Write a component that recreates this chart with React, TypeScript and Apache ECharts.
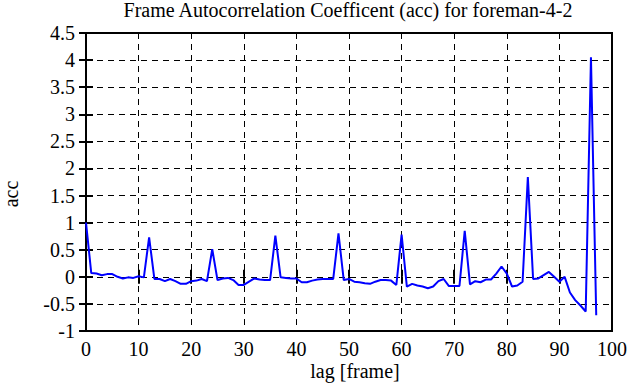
import React, { useEffect, useRef } from "react";
import * as echarts from "echarts";

const titleText = "Frame Autocorrelation Coefficent (acc) for foreman-4-2";
const xName = "lag [frame]";
const yName = "acc";

const lags: number[] = [];
for (let i = 0; i <= 97; i++) lags.push(i);

const accValues: number[] = [
  1.0, 0.07, 0.06, 0.03, 0.05, 0.05, 0.0, -0.03, -0.01, -0.02,
  0.01, -0.01, 0.73, -0.04, -0.04, -0.08, -0.04, -0.08, -0.13, -0.13,
  -0.08, -0.07, -0.04, -0.08, 0.51, -0.06, -0.03, -0.02, -0.06, -0.15,
  -0.15, -0.09, -0.03, -0.05, -0.06, -0.06, 0.76, -0.01, -0.02, -0.03,
  -0.03, -0.1, -0.1, -0.07, -0.05, -0.04, -0.04, -0.04, 0.8, -0.06,
  -0.04, -0.09, -0.1, -0.12, -0.13, -0.09, -0.06, -0.06, -0.07, -0.15,
  0.78, -0.18, -0.13, -0.16, -0.18, -0.21, -0.18, -0.08, -0.04, -0.17,
  -0.17, -0.17, 0.85, -0.14, -0.08, -0.1, -0.05, -0.05, 0.06, 0.19,
  0.06, -0.18, -0.16, -0.09, 1.84, -0.04, -0.03, 0.03, 0.09, 0.0,
  -0.09, 0.0, -0.29, -0.43, -0.53, -0.64, 4.05, -0.71,
];

const FONT = "Liberation Serif";

export default function App() {
  const ref = useRef<HTMLDivElement>(null);
  useEffect(() => {
    if (!ref.current) return;
    const chart = echarts.init(ref.current, undefined, { renderer: "svg" });
    const data = lags.map((l, i) => [l, accValues[i]]);
    const gridLine = { show: true, lineStyle: { color: "#000", width: 1, type: [6, 5] as any } };
    const tickIn = { show: true, inside: true, length: 7, lineStyle: { color: "#000", width: 2 } };
    chart.setOption({
      animation: false,
      backgroundColor: "#fff",
      grid: {
        left: 86, right: 17, top: 33, bottom: 56,
        show: true, borderColor: "#000", borderWidth: 2, backgroundColor: "transparent",
      },
      xAxis: [
        {
          type: "value", min: 0, max: 100, interval: 10,
          axisLine: { show: false },
          axisTick: tickIn,
          splitLine: gridLine,
          axisLabel: { color: "#000", fontFamily: FONT, fontSize: 20, margin: 8 },
        },
        {
          type: "value", position: "top", min: 0, max: 100, interval: 10,
          axisLine: { show: false }, axisTick: tickIn, splitLine: { show: false },
          axisLabel: { show: false },
        },
      ],
      yAxis: [
        {
          type: "value", min: -1, max: 4.5, interval: 0.5,
          axisLine: { show: false },
          axisTick: tickIn,
          splitLine: gridLine,
          axisLabel: { color: "#000", fontFamily: FONT, fontSize: 20, margin: 11 },
        },
        {
          type: "value", position: "right", min: -1, max: 4.5, interval: 0.5,
          axisLine: { show: false }, axisTick: tickIn, splitLine: { show: false },
          axisLabel: { show: false },
        },
      ],
      series: [
        {
          type: "line",
          data,
          showSymbol: false,
          symbol: "none",
          lineStyle: { color: "#0000ff", width: 2 },
          z: 5,
        },
      ],
      graphic: [
        {
          type: "text", x: 348, y: 10,
          style: { text: titleText, fill: "#000", font: `20px "${FONT}"`, textAlign: "center", textVerticalAlign: "middle" },
        },
        {
          type: "text", x: 355, y: 371,
          style: { text: xName, fill: "#000", font: `20px "${FONT}"`, textAlign: "center", textVerticalAlign: "middle" },
        },
        {
          type: "text", x: 11, y: 194, rotation: Math.PI / 2,
          style: { text: yName, fill: "#000", font: `20px "${FONT}"`, textAlign: "center", textVerticalAlign: "middle" },
        },
      ],
    });
    return () => chart.dispose();
  }, []);
  return <div ref={ref} style={{ width: 630, height: 387, position: "absolute", left: 0, top: 0 }} />;
}
